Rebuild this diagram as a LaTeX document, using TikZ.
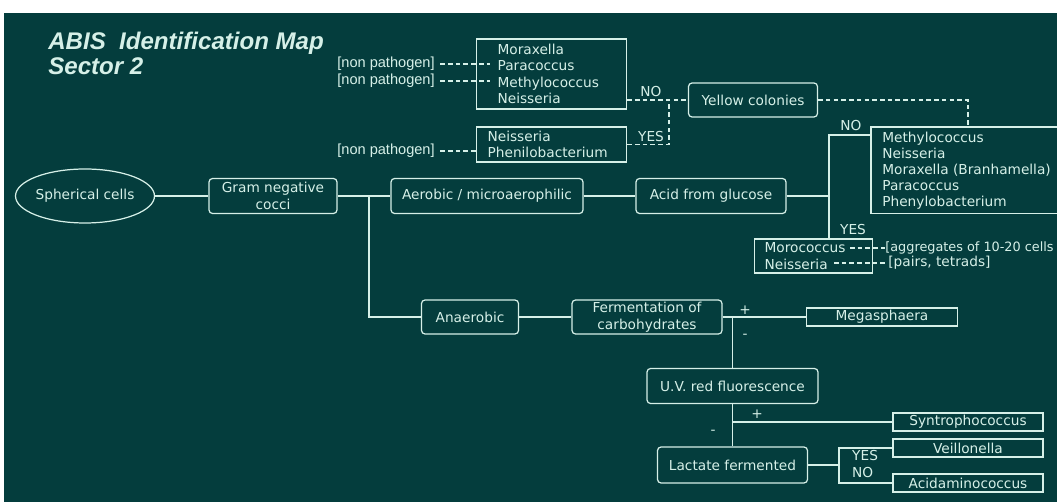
\documentclass[tikz,border=0pt]{standalone}
\usepackage{xcolor}
\usepackage{fontspec}
\setmainfont{DejaVu Sans}
\newfontfamily\arialfont{Liberation Sans}
\usepackage{tikz}
\usetikzlibrary{shapes.geometric}
\definecolor{board}{RGB}{4,61,61}
\definecolor{chalk}{RGB}{214,240,232}

\begin{document}
\begin{tikzpicture}[x=0.02cm, y=-0.02cm,
    every node/.style={text=chalk, font=\fontsize{7.8}{9.4}\selectfont},
    rbox/.style={draw=chalk, line width=.7pt, rounded corners=2pt, inner sep=0pt, minimum height=.7cm, align=center},
    sbox/.style={draw=chalk, line width=.7pt, inner sep=0pt, minimum height=.36cm},
    lbox/.style={draw=chalk, line width=.7pt, anchor=west, align=left, inner ysep=0pt},
    tag/.style={font=\arialfont\fontsize{8.3}{10}\selectfont, inner sep=0pt},
    head/.style={anchor=base west, inner sep=0pt, font=\arialfont\bfseries\itshape\fontsize{13.7}{16}\selectfont},
    link/.style={draw=chalk, line width=.7pt},
    dsh/.style={draw=chalk, line width=.7pt, dash pattern=on 2.6pt off 1.8pt}]
             \fill[white] (0,0) rectangle (1057,502);
             \fill[board] (4,13) rectangle (1057,502);
             \useasboundingbox (0,0) rectangle (1057,502);

             \node[head] (title) at (48,50) {ABIS\ \ Identification Map};
             \node[head] (sector) at (48,75) {Sector 2};

             \node[draw=chalk, line width=.7pt, ellipse, inner sep=0pt, minimum width=2.78cm, minimum height=1.08cm] (sph) at (85,196) {\makebox[0pt]{Spherical cells}};
             \node[rbox, minimum width=2.56cm] (gram) at (273,196) {Gram negative\\cocci};
             \node[rbox, minimum width=3.84cm] (aer) at (487,196) {Aerobic / microaerophilic};
             \node[rbox, minimum width=3cm] (acid) at (711,196) {Acid from glucose};
             \node[rbox, minimum width=1.94cm, minimum height=.68cm] (anae) at (470,317) {Anaerobic};
             \node[rbox, minimum width=3cm, minimum height=.68cm] (ferm) at (647,317) {Fermentation of\\carbohydrates};
             \node[sbox, minimum width=3.02cm] (mega) at (882,317) {Megasphaera};
             \node[rbox, minimum width=3.42cm] (uv) at (732.5,386) {U.V. red fluorescence};
             \node[rbox, minimum width=3cm, minimum height=.72cm] (lact) at (732.5,465) {Lactate fermented};
             \node[sbox, minimum width=3cm] (synt) at (968,422) {Syntrophococcus};
             \node[sbox, minimum width=3cm] (veil) at (968,448) {Veillonella};
             \node[sbox, minimum width=3cm] (acida) at (968,483) {Acidaminococcus};
             \node[rbox, minimum width=2.58cm, minimum height=.68cm] (yel) at (753,100) {Yellow colonies};

             \node[lbox, minimum width=3cm, minimum height=1.4cm, inner xsep=.42cm, text width=2.16cm] (mora) at (476,74) {Moraxella\\Paracoccus\\Methylococcus\\Neisseria};
             \node[lbox, minimum width=3cm, minimum height=.7cm, inner xsep=.22cm, text width=2.56cm] (neis) at (476,144.5) {Neisseria\\Phenilobacterium};
             \node[lbox, minimum width=2.36cm, minimum height=.68cm, inner xsep=.2cm, text width=1.96cm] (moro) at (754,256) {Morococcus\\Neisseria};
             \node[anchor=north west, align=left, inner xsep=.22cm, inner ysep=0pt, minimum height=1.72cm, font=\fontsize{7.8}{9.1}\selectfont] (meth) at (871,127) {Methylococcus\\Neisseria\\Moraxella (Branhamella)\\Paracoccus\\Phenylobacterium};
             \coordinate (redge) at (1057,0);
             \draw[link] (meth.north west -| redge) -- (meth.north west) -- (meth.south west) -- (meth.south west -| redge);

             \node[tag, anchor=east] (npA) at (435,64) {[non pathogen]};
             \node[tag, anchor=east] (npB) at (435,81) {[non pathogen]};
             \node[tag, anchor=east] (npC) at (435,151) {[non pathogen]};
             \node[anchor=west, inner sep=0pt, font=\fontsize{7.3}{9}\selectfont] (aggr) at (885,248) {[aggregates of 10-20 cells};
             \node[anchor=west, inner sep=0pt] (pairs) at (888,263) {[pairs, tetrads]};

             \node (noA) at (651,92) {NO};
             \node (yesA) at (651,137) {YES};
             \node (noB) at (851,126) {NO};
             \node (yesB) at (853,230) {YES};
             \node (plusA) at (745,310) {+};
             \node (minA) at (745,336) {-};
             \node (plusB) at (757,414) {+};
             \node (minB) at (713,432) {-};
             \node[anchor=west] (yesC) at (846,456) {YES};
             \node[anchor=west] (noC) at (846,473) {NO};

             \draw[link] (sph.east) -- (gram.west);
             \draw[link] (gram.east) -- (aer.west);
             \coordinate (gjoin) at (369,196);
             \draw[link] (gjoin) |- (anae.west);
             \draw[link] (aer.east) -- (acid.west);
             \coordinate (ajoin) at (829,196);
             \draw[link] (acid.east) -- (ajoin);
             \coordinate (njoin) at (829,135);
             \draw[link] (meth.west |- njoin) -| (moro.north -| njoin);
             \draw[link] (anae.east) -- (ferm.west);
             \draw[link] (ferm.east) -- (mega.west);
             \draw[link] (uv.north |- ferm.east) -- (uv.north);
             \draw[link] (uv.south) -- (lact.north);
             \draw[link] (uv.south |- synt.west) -- (synt.west);
             \coordinate (ljoin) at (839,465);
             \draw[link] (lact.east) -- (ljoin);
             \draw[link] (veil.west) -| (ljoin) |- (acida.west);

             \draw[dsh] (mora.east |- yel.west) -- (yel.west);
             \coordinate (yjoin) at (669,100);
             \draw[dsh] (neis.east) -| (yjoin);
             \coordinate (mtop) at (968,127);
             \draw[dsh] (yel.east) -| (mtop);
             \coordinate (paraL) at (490,64);
             \coordinate (methL) at (490,81);
             \draw[dsh, shorten <=3pt] (npA.east) -- (paraL);
             \draw[dsh, shorten <=3pt] (npB.east) -- (methL);
             \draw[dsh, shorten <=3pt] (npC.east) -- (npC.east -| neis.west);
             \coordinate (moroA) at (850,248);
             \coordinate (moroB) at (834,263);
             \draw[dsh] (moroA) -- (aggr.west);
             \draw[dsh] (moroB) -- (pairs.west);
\end{tikzpicture}
\end{document}
